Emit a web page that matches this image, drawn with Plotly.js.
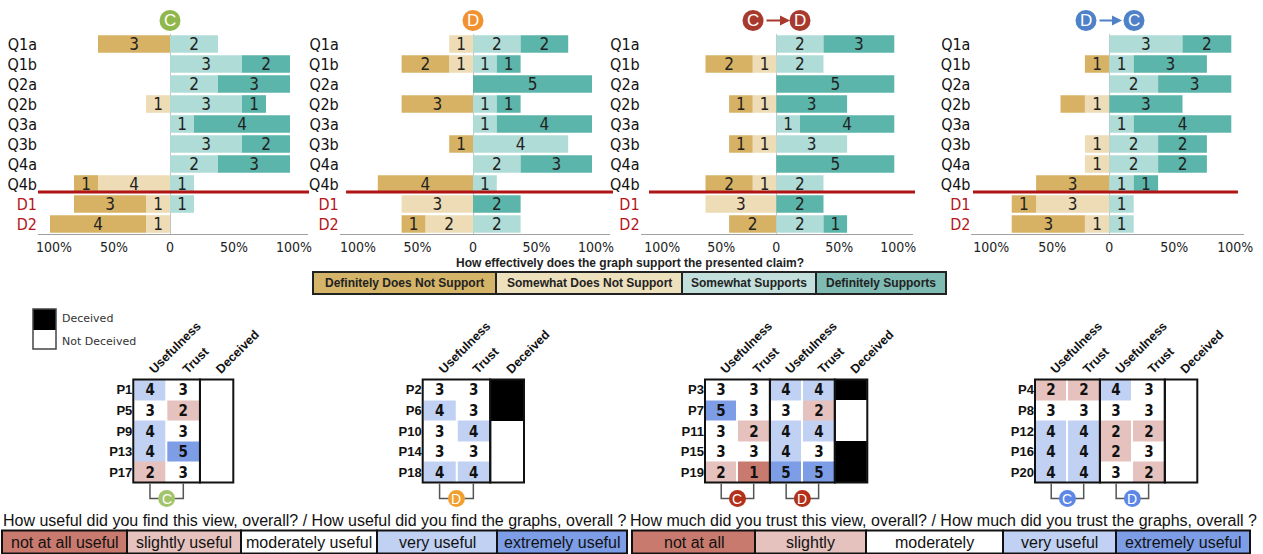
<!DOCTYPE html>
<html><head><meta charset="utf-8">
<script src="https://cdn.plot.ly/plotly-3.0.1.min.js"></script>
<style>html,body{margin:0;padding:0;background:#fff;} #chart{width:1263px;height:554px;}</style>
</head><body><div id="chart"></div>
<script>
const W = 1263, H = 554;
const X = p => p / W;
const Y = p => 1 - p / H;
const NARROW = '"Liberation Sans Narrow", "Arial Narrow", "DejaVu Sans Condensed", sans-serif';
const ARIAL = '"Liberation Sans", Arial, sans-serif';

// ---------- top: diverging stacked bars (counts of 5 participants) ----------
const questions = ['Q1a','Q1b','Q2a','Q2b','Q3a','Q3b','Q4a','Q4b','D1','D2'];
const questionTickText = questions.map(q => q.startsWith('D') ? '<span style="color:#b3161b">' + q + '</span>' : q);
const pctTickVals = [-100,-50,0,50,100];
const pctTickText = ['\u00a0\u00a0100%','\u00a0\u00a050%','0','\u00a0\u00a050%','\u00a0\u00a0100%'];
const supportCategories = ['Definitely Does Not Support','Somewhat  Does Not Support','Somewhat  Supports','Definitely Supports'];
const supportQuestion = 'How effectively does the graph support the presented claim?';

// Condition C
const C_defNot  = [3,0,0,0,0,0,0,1,3,4];
const C_someNot = [0,0,0,1,0,0,0,3,1,1];
const C_someSup = [2,3,2,3,1,3,2,1,1,0];
const C_defSup  = [0,2,3,1,4,2,3,0,0,0];
// Condition D
const D_defNot  = [0,2,0,3,0,1,0,4,0,1];
const D_someNot = [1,1,0,0,0,0,0,0,3,2];
const D_someSup = [2,1,0,1,1,4,2,1,0,2];
const D_defSup  = [2,1,5,1,4,0,3,0,2,0];
// Condition C -> D
const CD_defNot  = [0,2,0,1,0,1,0,2,0,2];
const CD_someNot = [0,1,0,1,0,1,0,1,3,0];
const CD_someSup = [2,2,0,0,1,3,0,2,0,2];
const CD_defSup  = [3,0,5,3,4,0,5,0,2,1];
// Condition D -> C
const DC_defNot  = [0,1,0,1,0,0,0,3,1,3];
const DC_someNot = [0,0,0,1,0,1,1,0,3,1];
const DC_someSup = [3,1,2,0,1,2,2,1,1,1];
const DC_defSup  = [2,3,3,3,4,2,2,1,0,0];

// printed labels that differ from the drawn count in the original figure
const labelOverrides = [
  {chart:0, series:'someNot', row:'Q4b', text:'4'},
  {chart:3, series:'defNot', row:'Q2b', text:''}
];

const barCharts = [
  {defNot:C_defNot, someNot:C_someNot, someSup:C_someSup, defSup:C_defSup},
  {defNot:D_defNot, someNot:D_someNot, someSup:D_someSup, defSup:D_defSup},
  {defNot:CD_defNot, someNot:CD_someNot, someSup:CD_someSup, defSup:CD_defSup},
  {defNot:DC_defNot, someNot:DC_someNot, someSup:DC_someSup, defSup:DC_defSup}
];
const barColors = {defNot:'#d8b264', someNot:'#eddcb5', someSup:'#b0dcd7', defSup:'#5cb5aa'};
const legendColors = ['#d4b468','#ede0bd','#c2dfdb','#7fbbb2'];

// ---------- bottom: usefulness / trust ratings ----------
const colHeaders2 = ['Usefulness','Trust','Deceived'];
const colHeaders4 = ['Usefulness','Trust','Usefulness','Trust','Deceived'];

const tC_participants = ['P1','P5','P9','P13','P17'];
const tC_useC   = [4,3,4,4,2];
const tC_trustC = [3,2,3,5,3];
const tC_deceived = [0,0,0,0,0];

const tD_participants = ['P2','P6','P10','P14','P18'];
const tD_useD   = [3,4,3,3,4];
const tD_trustD = [3,3,4,3,4];
const tD_deceived = [1,1,0,0,0];

const tCD_participants = ['P3','P7','P11','P15','P19'];
const tCD_useC   = [3,5,3,3,2];
const tCD_trustC = [3,3,2,3,1];
const tCD_useD   = [4,3,4,4,5];
const tCD_trustD = [4,2,4,3,5];
const tCD_deceived = [1,0,0,1,1];

const tDC_participants = ['P4','P8','P12','P16','P20'];
const tDC_useC   = [2,3,4,4,4];
const tDC_trustC = [2,3,4,4,4];
const tDC_useD   = [4,3,2,2,3];
const tDC_trustD = [3,3,2,3,2];
const tDC_deceived = [0,0,0,0,0];

const ratingColors = ['#c97a6e','#e5c2bd','#ffffff','#c1d1f3','#7d9de6'];
const usefulLabels = ['not at all useful','slightly useful','moderately useful','very useful','extremely useful'];
const trustLabels = ['not at all','slightly','moderately','very useful','extremely useful'];
const usefulQuestion = 'How useful did you find this view, overall? / How useful did you find the graphs, overall ?';
const trustQuestion = 'How much did you trust this view, overall? / How much did you trust the graphs, overall ?';

// ---------- geometry ----------
const barGeom = [
  {zero:170, scale:1.2, left:110, right:115, line:[38,309]},
  {zero:473, scale:1.19, left:112, right:115, line:[346,613]},
  {zero:776.3, scale:1.18, left:115, right:116, line:[649,915]},
  {zero:1109.3, scale:1.22, left:113, right:110, line:[973,1238]}
];
const barTop = 34, barBottom = 234;

const traces = [];
const layout = {
  width: W, height: H, margin:{l:0,r:0,t:0,b:0},
  paper_bgcolor:'#fff', plot_bgcolor:'rgba(0,0,0,0)',
  barmode:'relative', bargap:0.12, showlegend:false,
  shapes:[], annotations:[]
};

const order = [['someNot',-1],['defNot',-1],['someSup',1],['defSup',1]];
barCharts.forEach((ch, ci) => {
  const g = barGeom[ci];
  const sfx = ci === 0 ? '' : String(ci + 1);
  order.forEach(([key, sign]) => {
    const vals = ch[key];
    const txt = vals.map((v, i) => {
      const o = labelOverrides.find(o => o.chart === ci && o.series === key && o.row === questions[i]);
      if (o) return o.text;
      return v ? String(v) : '';
    });
    traces.push({
      type:'bar', orientation:'h', y:questions, x:vals.map(v => sign * v * 20),
      text:txt, textposition:'inside', insidetextanchor:'middle', textangle:0, constraintext:'none',
      textfont:{family:NARROW, size:17, color:'#222'},
      marker:{color:barColors[key], line:{width:0}},
      xaxis:'x' + sfx, yaxis:'y' + sfx, hoverinfo:'skip'
    });
  });
  layout['xaxis' + sfx] = {
    domain:[X(g.zero - g.left * g.scale), X(g.zero + g.right * g.scale)],
    range:[-g.left, g.right], anchor:'y' + sfx,
    tickvals:pctTickVals, ticktext:pctTickText,
    showgrid:false, zeroline:true, zerolinecolor:'#c4c4c4', zerolinewidth:1,
    showline:true, linecolor:'#a0a0a0', linewidth:1, ticks:'',
    tickfont:{family:NARROW, size:14, color:'#222'}, fixedrange:true
  };
  layout['yaxis' + sfx] = {
    domain:[Y(barBottom), Y(barTop)], anchor:'x' + sfx, type:'category',
    categoryorder:'array', categoryarray:questions, autorange:'reversed',
    tickvals:questions, ticktext:questionTickText,
    showgrid:false, zeroline:false, showline:false, ticks:'',
    tickfont:{family:NARROW, size:16, color:'#111'}, fixedrange:true
  };
  // red separator between questions and distractors
  layout.shapes.push({type:'line', xref:'paper', yref:'paper',
    x0:X(g.line[0]), x1:X(g.line[1]), y0:Y(barTop + 7.9*20), y1:Y(barTop + 7.9*20),
    line:{color:'#b01414', width:3}});
});

// header icons
const headerIcons = [
  {circles:[{cx:170, letter:'C'}], color:'#8fb84c'},
  {circles:[{cx:473, letter:'D'}], color:'#f1912f'},
  {circles:[{cx:753, letter:'C'},{cx:800, letter:'D'}], color:'#a8392d', arrow:[765,790]},
  {circles:[{cx:1086, letter:'D'},{cx:1134, letter:'C'}], color:'#4f81c8', arrow:[1098,1122]}
];
function circle(cx, cy, r, color, letter, size) {
  layout.shapes.push({type:'circle', xref:'paper', yref:'paper',
    x0:X(cx - r), x1:X(cx + r), y0:Y(cy + r), y1:Y(cy - r),
    fillcolor:color, line:{width:0}});
  layout.annotations.push({xref:'paper', yref:'paper', x:X(cx), y:Y(cy + 0.5), text:letter,
    showarrow:false, xanchor:'center', yanchor:'middle',
    font:{family:ARIAL, size:size, color:'#fff'}});
}
headerIcons.forEach(h => {
  h.circles.forEach(c => circle(c.cx, 20.5, 10.5, h.color, c.letter, 17));
  if (h.arrow) {
    layout.annotations.push({xref:'paper', yref:'paper', axref:'paper', ayref:'paper',
      x:X(h.arrow[1]), y:Y(20.5), ax:X(h.arrow[0]), ay:Y(20.5), text:'', showarrow:true,
      arrowhead:2, arrowsize:1, arrowwidth:2, arrowcolor:h.color});
  }
});

// support legend
layout.annotations.push({xref:'paper', yref:'paper', x:X(630), y:Y(263), text:'<b>' + supportQuestion + '</b>',
  showarrow:false, xanchor:'center', yanchor:'middle', font:{family:ARIAL, size:12, color:'#222'}});
const supEdges = [313, 496, 682, 816, 946];
supportCategories.forEach((lab, i) => {
  layout.shapes.push({type:'rect', xref:'paper', yref:'paper', x0:X(supEdges[i]), x1:X(supEdges[i+1]),
    y0:Y(294), y1:Y(272), fillcolor:legendColors[i], line:{color:'#222', width:2}});
  layout.annotations.push({xref:'paper', yref:'paper', x:X((supEdges[i] + supEdges[i+1]) / 2), y:Y(283),
    text:'<b>' + lab.replace(/  /g, ' ') + '</b>', showarrow:false, xanchor:'center', yanchor:'middle',
    font:{family:ARIAL, size:12, color:'#222'}});
});

// ---------- tables ----------
const tables = [
  {x0:133.3, x1:233.3, parts:tC_participants, cols:[tC_useC, tC_trustC], dec:tC_deceived, heads:colHeaders2,
   groups:[{a:0, b:1, letter:'C', color:'#a2c56b'}]},
  {x0:422.7, x1:524, parts:tD_participants, cols:[tD_useD, tD_trustD], dec:tD_deceived, heads:colHeaders2,
   groups:[{a:0, b:1, letter:'D', color:'#f1a02f'}]},
  {x0:705, x1:867.3, parts:tCD_participants, cols:[tCD_useC, tCD_trustC, tCD_useD, tCD_trustD], dec:tCD_deceived, heads:colHeaders4,
   groups:[{a:0, b:1, letter:'C', color:'#b3301a'}, {a:2, b:3, letter:'D', color:'#b3301a'}]},
  {x0:1035, x1:1197.3, parts:tDC_participants, cols:[tDC_useC, tDC_trustC, tDC_useD, tDC_trustD], dec:tDC_deceived, heads:colHeaders4,
   groups:[{a:0, b:1, letter:'C', color:'#5c87e6'}, {a:2, b:3, letter:'D', color:'#5c87e6'}]}
];
const tTop = 379.5, tBot = 482.5;
const ratingScale = [];
ratingColors.forEach((c, i) => { ratingScale.push([i/5, c]); ratingScale.push([(i+1)/5, c]); });

tables.forEach((t, ti) => {
  const n = t.cols.length + 1;
  const sfx = String(ti + 5);
  const cw = (t.x1 - t.x0) / n;
  const edge = k => t.x0 + k * cw;
  const z = t.parts.map((p, r) => t.cols.map(c => c[r]));
  traces.push({type:'heatmap', z:z, x:t.cols.map((c, i) => i), y:t.parts.map((p, i) => i),
    zmin:0.5, zmax:5.5, colorscale:ratingScale, showscale:false, xgap:2, ygap:0,
    texttemplate:'%{z}', textfont:{family:NARROW, size:15, color:'#111', weight:'bold'},
    xaxis:'x' + sfx, yaxis:'y' + sfx, hoverinfo:'skip'});
  traces.push({type:'heatmap', z:t.dec.map(d => [d]), x:[n - 1], y:t.parts.map((p, i) => i),
    zmin:0, zmax:1, colorscale:[[0,'#ffffff'],[1,'#000000']], showscale:false,
    xaxis:'x' + sfx, yaxis:'y' + sfx, hoverinfo:'skip'});
  layout['xaxis' + sfx] = {domain:[X(t.x0), X(t.x1)], range:[-0.5, n - 0.5], anchor:'y' + sfx, side:'top',
    tickvals:t.heads.map((h, i) => i), ticktext:t.heads, tickangle:-45, ticks:'',
    showgrid:false, zeroline:false, showline:false, tickfont:{family:ARIAL, size:12.5, color:'#111', weight:'bold'}, fixedrange:true};
  layout['yaxis' + sfx] = {domain:[Y(tBot), Y(tTop)], range:[4.5, -0.5], anchor:'x' + sfx,
    tickvals:t.parts.map((p, i) => i), ticktext:t.parts, ticks:'',
    showgrid:false, zeroline:false, showline:false, tickfont:{family:ARIAL, size:13, color:'#111', weight:'bold'}, fixedrange:true};
  // borders
  t.groups.forEach(g => {
    layout.shapes.push({type:'rect', xref:'paper', yref:'paper', x0:X(edge(g.a)), x1:X(edge(g.b + 1)),
      y0:Y(tBot), y1:Y(tTop), line:{color:'#111', width:2}});
    const c1 = (edge(g.a) + edge(g.a + 1)) / 2, c2 = (edge(g.b) + edge(g.b + 1)) / 2;
    const by = 498.5;
    layout.shapes.push({type:'path', xref:'paper', yref:'paper',
      path:'M ' + X(c1) + ' ' + Y(tBot + 1) + ' L ' + X(c1) + ' ' + Y(by) + ' L ' + X(c2) + ' ' + Y(by) + ' L ' + X(c2) + ' ' + Y(tBot + 1),
      line:{color:'#555', width:1.5}});
    circle((c1 + c2) / 2, by, 8.5, g.color, g.letter, 14);
  });
  layout.shapes.push({type:'rect', xref:'paper', yref:'paper', x0:X(edge(n - 1)), x1:X(edge(n)),
    y0:Y(tBot), y1:Y(tTop), line:{color:'#111', width:2}});
});

// deceived legend
layout.shapes.push({type:'rect', xref:'paper', yref:'paper', x0:X(33), x1:X(56), y0:Y(330), y1:Y(309), fillcolor:'#000', line:{width:0}});
layout.shapes.push({type:'rect', xref:'paper', yref:'paper', x0:X(33), x1:X(56), y0:Y(349), y1:Y(309), line:{color:'#444', width:1.5}});
layout.annotations.push({xref:'paper', yref:'paper', x:X(60), y:Y(318), text:'Deceived', showarrow:false,
  xanchor:'left', yanchor:'middle', font:{family:'"DejaVu Sans", Verdana, sans-serif', size:11, color:'#333'}});
layout.annotations.push({xref:'paper', yref:'paper', x:X(60), y:Y(341), text:'Not Deceived', showarrow:false,
  xanchor:'left', yanchor:'middle', font:{family:'"DejaVu Sans", Verdana, sans-serif', size:11, color:'#333'}});

// bottom legends
function ratingLegend(title, titleX, labels, edges) {
  layout.annotations.push({xref:'paper', yref:'paper', x:X(titleX), y:Y(520), text:title, showarrow:false,
    xanchor:'center', yanchor:'middle', font:{family:ARIAL, size:16, color:'#111'}});
  labels.forEach((lab, i) => {
    layout.shapes.push({type:'rect', xref:'paper', yref:'paper', x0:X(edges[i]), x1:X(edges[i+1]),
      y0:Y(553.5), y1:Y(530.5), fillcolor:ratingColors[i], line:{color:'#111', width:2}});
    layout.annotations.push({xref:'paper', yref:'paper', x:X((edges[i] + edges[i+1]) / 2), y:Y(542),
      text:lab, showarrow:false, xanchor:'center', yanchor:'middle', font:{family:ARIAL, size:16, color:'#111'}});
  });
}
ratingLegend(usefulQuestion, 315, usefulLabels, [2, 127, 241, 377, 497, 627]);
ratingLegend(trustQuestion, 943, trustLabels, [632, 755, 866, 1003, 1116, 1250]);

Plotly.newPlot('chart', traces, layout, {staticPlot:true, displayModeBar:false});
</script>
</body></html>
